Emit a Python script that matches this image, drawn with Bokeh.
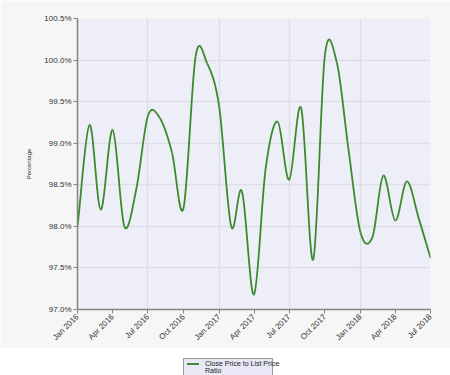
import numpy as np
import pandas as pd
from bokeh.plotting import figure
from bokeh.layouts import column
from bokeh.models import (DatetimeTickFormatter, MonthsTicker, PrintfTickFormatter,
                          Range1d, ColumnDataSource, FixedTicker, Div)
from bokeh.embed import file_html
from bokeh.resources import INLINE

# ---- data ----
months = pd.date_range("2016-01-01", "2018-07-01", freq="MS")
ratio = [98.00, 99.22, 98.20, 99.16, 98.00, 98.45, 99.33, 99.30, 98.89, 98.22,
         100.04, 99.96, 99.44, 98.00, 98.42, 97.18, 98.69, 99.26, 98.56, 99.42,
         97.60, 100.05, 99.97, 98.93, 97.93, 97.87, 98.61, 98.07, 98.54, 98.09,
         97.62]
y_ticks = [97.0, 97.5, 98.0, 98.5, 99.0, 99.5, 100.0, 100.5]
series_name = "Close Price to List Price\nRatio"

LINE_COLOR = "#3b8a2c"
FONT = "Liberation Sans"

# ---- Catmull-Rom spline control points ----
xs = months.values.astype("datetime64[ms]").astype("int64").astype(float)
ys = np.array(ratio, dtype=float)
n = len(xs)
tx = np.empty(n); ty = np.empty(n)
tx[1:-1] = (xs[2:] - xs[:-2]) / 2
ty[1:-1] = (ys[2:] - ys[:-2]) / 2
tx[0], ty[0] = xs[1] - xs[0], ys[1] - ys[0]
tx[-1], ty[-1] = xs[-1] - xs[-2], ys[-1] - ys[-2]

src = ColumnDataSource(dict(
    x0=xs[:-1], y0=ys[:-1], x1=xs[1:], y1=ys[1:],
    cx0=xs[:-1] + tx[:-1] / 3, cy0=ys[:-1] + ty[:-1] / 3,
    cx1=xs[1:] - tx[1:] / 3, cy1=ys[1:] - ty[1:] / 3))

fig = figure(width=450, height=348, output_backend="svg", toolbar_location=None,
             x_axis_type="datetime",
             x_range=Range1d(xs[0], xs[-1]), y_range=Range1d(97.0, 100.5),
             min_border_left=77, min_border_right=20, min_border_top=18,
             min_border_bottom=37)
fig.border_fill_color = "#f6f6f6"
fig.background_fill_color = "#eeeef9"
fig.outline_line_color = None

r = fig.bezier(x0="x0", y0="y0", x1="x1", y1="y1", cx0="cx0", cy0="cy0",
               cx1="cx1", cy1="cy1", source=src, line_color=LINE_COLOR, line_width=1.8)

# axes
fig.xaxis.ticker = MonthsTicker(months=[0, 3, 6, 9])
fig.xaxis.formatter = DatetimeTickFormatter(months="%b %Y", years="%b %Y", days="%b %Y")
fig.xaxis.major_label_orientation = np.pi / 4
fig.yaxis.ticker = FixedTicker(ticks=y_ticks)
fig.yaxis.formatter = PrintfTickFormatter(format="%.1f%%")
fig.yaxis.axis_label = "Percentage"
fig.yaxis.axis_label_text_font_size = "6px"
fig.yaxis.axis_label_text_font_style = "normal"
fig.yaxis.axis_label_text_font = FONT
fig.yaxis.axis_label_text_color = "#333333"
fig.yaxis.axis_label_standoff = 9
for ax in (fig.xaxis, fig.yaxis):
    ax.axis_line_color = "#858585"
    ax.axis_line_width = 1.5
    ax.major_tick_line_color = "#858585"
    ax.major_tick_out = 4
    ax.major_tick_in = 0
    ax.minor_tick_line_color = None
    ax.major_label_text_font = FONT
    ax.major_label_text_font_size = "8px"
    ax.major_label_text_color = "#333333"
    ax.major_label_standoff = 2

fig.xgrid.ticker = MonthsTicker(months=[0, 6])
fig.xgrid.grid_line_color = "#dedee6"
fig.xgrid.grid_line_width = 1.5
fig.ygrid.grid_line_color = "#dedee6"
fig.ygrid.grid_line_width = 1.5

# ---- legend (HTML box below the chart) ----
label_html = series_name.replace("\n", "<br>")
legend_html = (
    '<div style="margin-left:178px;margin-top:0px;width:90px;background:#e8e8f6;'
    'border:1px solid #9a9a9a;display:flex;align-items:flex-start;'
    f"font-family:'{FONT}';font-size:7px;line-height:1.05;color:#222;padding:1px 2px;\">"
    f'<span style="display:inline-block;flex:none;width:12px;height:0;'
    f'border-top:2px solid {LINE_COLOR};margin:3px 6px 0 1px;"></span>'
    f'<span style="white-space:nowrap;">{label_html}</span></div>'
)
legend_div = Div(text=legend_html, width=450, height=24,
                 styles={"background-color": "#ffffff"})

p = column(fig, legend_div, spacing=0)

open("out.html", "w").write(file_html(p, INLINE))
